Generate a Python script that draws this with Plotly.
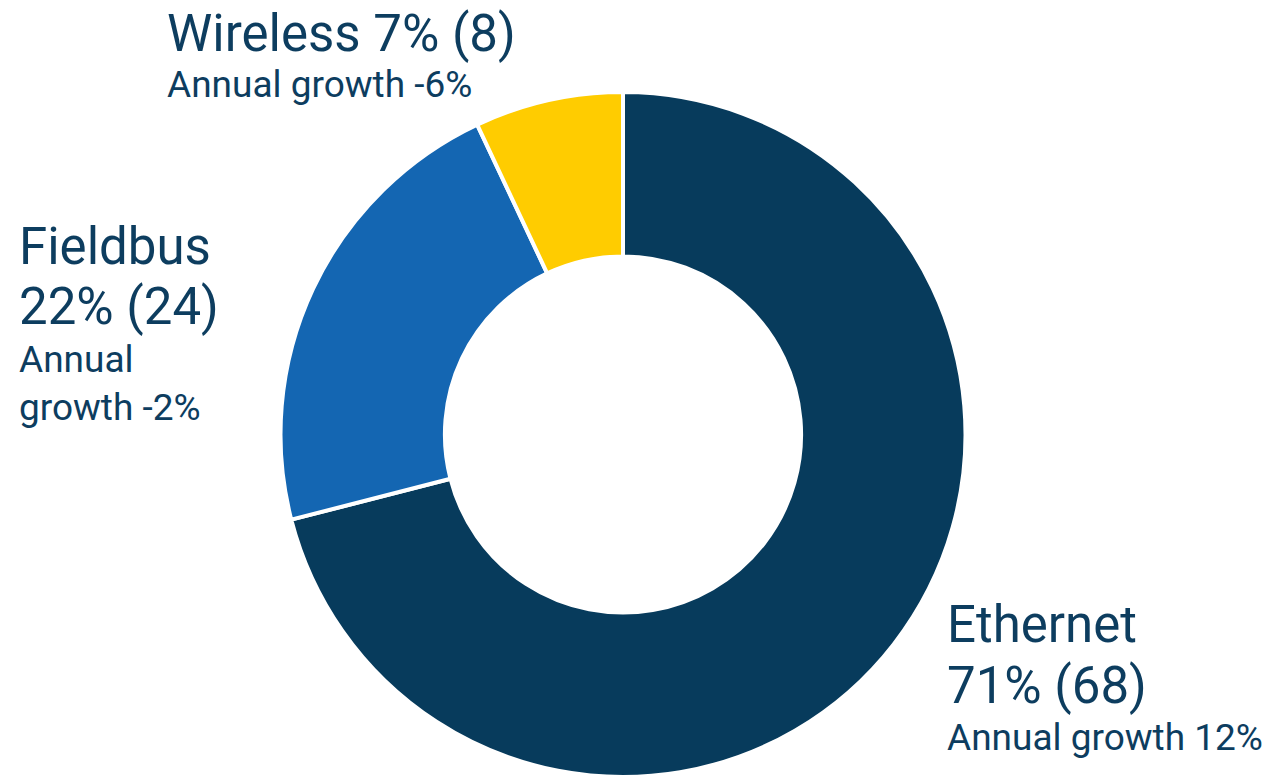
import plotly.graph_objects as go

W, H = 1275, 777

categories = ["Ethernet", "Fieldbus", "Wireless"]
shares = [71, 22, 7]
counts = [68, 24, 8]
growth = [12, -2, -6]
colors = ["#073B5C", "#1466B2", "#FFCC00"]

TEXT = "#0D3D5F"
FONT = "Roboto"

fig = go.Figure(go.Pie(
    labels=categories,
    values=shares,
    sort=False,
    direction="clockwise",
    rotation=0,
    hole=0.52,
    marker=dict(colors=colors, line=dict(color="white", width=4)),
    textinfo="none",
    hoverinfo="label+percent",
    domain=dict(x=[(623 - 344) / W, (623 + 344) / W], y=[0, 1 - 92 / H]),
    showlegend=False,
))

def px(x):
    return x / W

def py(y):
    return 1 - y / H

BIG, SMALL = 51, 37

# (x, y_center, text, size)
lines = [
    (165, 33, f"{categories[2]} {shares[2]}% ({counts[2]})", BIG),
    (165, 84, f"Annual growth {growth[2]}%", SMALL),
    (17, 247, categories[1], BIG),
    (17, 306, f"{shares[1]}% ({counts[1]})", BIG),
    (17, 360, "Annual", SMALL),
    (17, 407, f"growth {growth[1]}%", SMALL),
    (945, 624, categories[0], BIG),
    (945, 685, f"{shares[0]}% ({counts[0]})", BIG),
    (945, 737, f"Annual growth {growth[0]}%", SMALL),
]

for x, y, t, s in lines:
    fig.add_annotation(
        x=px(x), y=py(y), xref="paper", yref="paper",
        xanchor="left", yanchor="middle", showarrow=False,
        text=t, font=dict(family=FONT, size=s, color=TEXT),
    )

fig.update_layout(
    width=W, height=H,
    margin=dict(l=0, r=0, t=0, b=0),
    paper_bgcolor="white",
    plot_bgcolor="white",
)

fig.write_html("out.html")
